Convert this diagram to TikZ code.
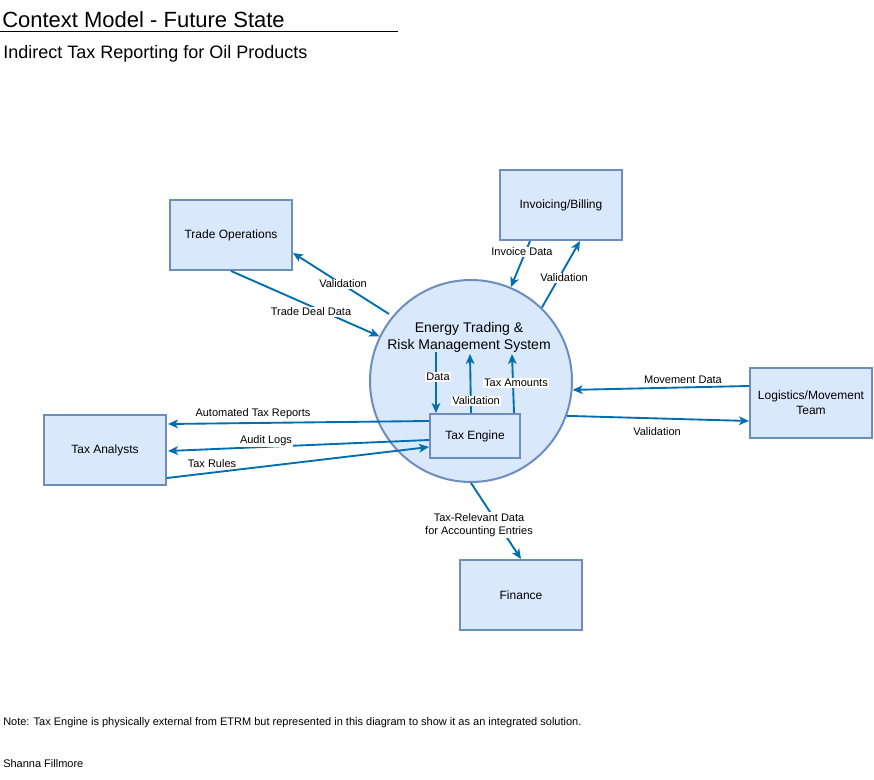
\documentclass[tikz,border=0pt]{standalone}
\usepackage{fontspec}
\setmainfont{Liberation Sans}
\usetikzlibrary{calc,arrows.meta}
\definecolor{boxfill}{HTML}{DAE8FC}
\definecolor{boxline}{HTML}{6C8EBF}
\definecolor{arrowc}{HTML}{006EAF}
\begin{document}
\begin{tikzpicture}[x=0.75pt,y=-0.75pt,
  box/.style={draw=boxline,fill=boxfill,line width=1.5pt,minimum width=91.5pt,minimum height=52.5pt,inner sep=0pt,align=center,font=\fontsize{9pt}{11pt}\selectfont},
  sysc/.style={draw=boxline,fill=boxfill,line width=1.5pt,circle,minimum size=151.5pt,inner sep=0pt},
  engbox/.style={draw=boxline,fill=boxfill,line width=1.5pt,minimum width=67.5pt,minimum height=33pt,inner sep=0pt,font=\fontsize{9pt}{11pt}\selectfont},
  flow/.style={draw=arrowc,line width=1.4pt,-{Stealth[length=7.5pt,width=6.5pt,inset=2pt]}},
  lbl/.style={fill=white,inner sep=1pt,font=\fontsize{8.25pt}{10pt}\selectfont,align=center,text=black},
  plain/.style={inner sep=0pt,anchor=west,text=black}
]
\useasboundingbox (0,0) rectangle (874,780);
\fill[white] (0,0) rectangle (874,780);

% titles
\node[plain,font=\fontsize{16.5pt}{19pt}\selectfont] (title) at (2,19.5) {Context Model - Future State};
\draw[black,line width=0.75pt] (0,31.5) -- (398,31.5);
\node[plain,font=\fontsize{13.5pt}{16pt}\selectfont] (subtitle) at (3,54) {Indirect Tax Reporting for Oil Products};

% central system
\node[sysc] (etrm) at (471,381) {};
\node[inner sep=0pt,align=center,font=\fontsize{10.5pt}{12.75pt}\selectfont] (etrmtext) at (469,337) {Energy Trading \&\\Risk Management System};
\node[engbox] (te) at (475,436) {Tax Engine};

% external entities
\node[box] (trade) at (231,235) {Trade Operations};
\node[box] (inv) at (561,205) {Invoicing/Billing};
\node[box] (ta) at (105,450) {Tax Analysts};
\node[box] (log) at (811,403) {Logistics/Movement\\Team};
\node[box] (fin) at (521,595) {Finance};

% connectors
\draw[flow] (trade.south) -- (etrm.154);
\draw[flow] ($(etrm.center)+(-82,-67)$) -- ($(trade.east)+(0,18)$);
\draw[flow] ($(inv.south)+(-31,0)$) -- (etrm.67);
\draw[flow] (etrm.46) -- ($(inv.south)+(19,0)$);
\draw[flow] ($(log.west)+(0,-17)$) -- (etrm.-5);
\draw[flow] (etrm.-20.6) -- ($(log.west)+(0,18)$);
\draw[flow] (etrm.-90) -- (fin.north);
\draw[flow] ($(te.north)+(-39,-61)$) -- ($(te.north)+(-39,0)$);
\draw[flow] ($(te.north)+(-4,0)$) -- ($(te.north)+(-5,-59)$);
\draw[flow] ($(te.north)+(39,0)$) -- ($(te.north)+(37,-59)$);
\draw[flow] ($(te.west)+(0,-15)$) -- ($(ta.east)+(1,-26)$);
\draw[flow] ($(te.west)+(0,4)$) -- ($(ta.east)+(1,1)$);
\draw[flow] ($(ta.east)+(0,28)$) -- ($(te.west)+(0,11)$);

% labels
\node[lbl] (l1) at (311,312) {Trade Deal Data};
\node[lbl] (l2) at (343,284) {Validation};
\node[lbl] (l3) at (522,252) {Invoice Data};
\node[lbl] (l4) at (564,278) {Validation};
\node[lbl] (l5) at (683,380) {Movement Data};
\node[lbl] (l6) at (657,432) {Validation};
\node[lbl] (l7) at (479,525) {Tax-Relevant Data\\for Accounting Entries};
\node[lbl] (l8) at (438,377) {Data};
\node[lbl] (l9) at (476,401) {Validation};
\node[lbl] (l10) at (516,383) {Tax Amounts};
\node[lbl] (l11) at (253,414) {Automated Tax Reports};
\node[lbl] (l12) at (266,441) {Audit Logs};
\node[lbl] (l13) at (212,464) {Tax Rules};

% footnotes
\node[plain,font=\fontsize{8.25pt}{10pt}\selectfont] (note) at (3,723) {Note: Tax Engine is physically external from ETRM but represented in this diagram to show it as an integrated solution.};
\node[plain,font=\fontsize{8.25pt}{10pt}\selectfont] (author) at (3,764) {Shanna Fillmore};
\end{tikzpicture}
\end{document}
